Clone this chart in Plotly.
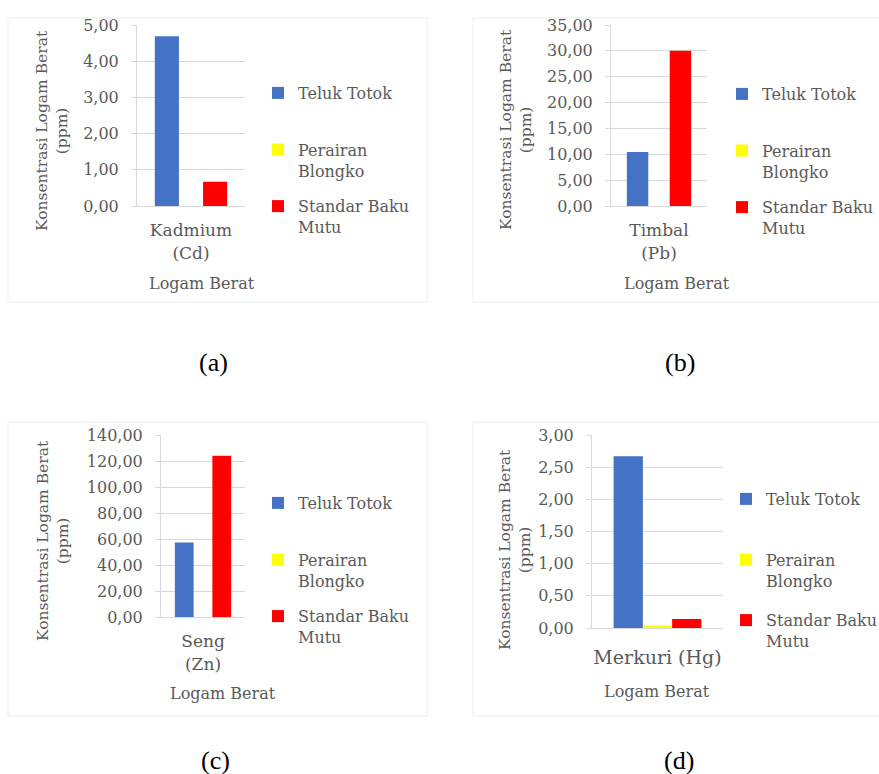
import plotly.graph_objects as go

W, H = 879, 774

# ---------------- data ----------------
series_names = ["Teluk Totok<br> ", "Perairan<br>Blongko", "Standar Baku<br>Mutu"]
series_colors = ["#4472C4", "#FFFF00", "#FF0000"]

categories = ["Kadmium<br>(Cd)", "Timbal<br>(Pb)", "Seng<br>(Zn)", "Merkuri (Hg)"]
teluk_totok = [4.69, 10.45, 57.4, 2.67]
perairan_blongko = [0.0, 0.0, 0.0, 0.04]
standar_baku_mutu = [0.67, 30.0, 124.0, 0.14]

y_max = [5, 35, 140, 3]
y_step = [1, 5, 20, 0.5]
panel_labels = ["(a)", "(b)", "(c)", "(d)"]
x_title = "Logam Berat"
y_title = "Konsentrasi Logam Berat<br>(ppm)"

# ---------------- layout helpers (pixel -> paper) ----------------
def fx(px):
    return px / W

def fy(py):
    return 1 - py / H

# plot boxes (left, right, top, bottom) in px
boxes = [(137, 245, 25, 206), (611, 707, 25, 206), (161, 245, 435, 617), (592, 723, 435, 628)]
legend_pos = [(258, 76), (722, 77), (258, 486), (726, 482)]
legend_gap = [12, 12, 12, 16]
ytitle_pos = [(52, 131), (516, 130), (53, 541), (515, 550)]
xtitle_pos = [(202, 283), (677, 283), (223, 693), (657, 691)]
caption_pos = [(213, 363), (680, 363), (215, 760), (679, 760)]
frames = [(8, 427, 18, 302), (473, 880, 18, 302), (8, 427, 422, 716), (473, 880, 422, 716)]
cat_font = [17, 17, 17, 19]
cat_standoff = [9, 9, 9, 12]

FONT = "DejaVu Serif"
GREY = "#595959"

fig = go.Figure()
values = [teluk_totok, perairan_blongko, standar_baku_mutu]

layout = dict(
    width=W, height=H,
    margin=dict(l=0, r=0, t=0, b=0, autoexpand=False),
    paper_bgcolor="white", plot_bgcolor="white",
    font=dict(family=FONT, color=GREY, size=16),
    separators=",.",
    barmode="group", bargap=0.33, bargroupgap=0,
    showlegend=True,
)

annotations = []
shapes = []
for i in range(4):
    sfx = "" if i == 0 else str(i + 1)
    xa, ya = "x" + sfx, "y" + sfx
    lg = "legend" + sfx
    for s in range(3):
        fig.add_trace(go.Bar(
            x=[categories[i]], y=[values[s][i]],
            name=series_names[s], marker=dict(color=series_colors[s], line=dict(width=0)),
            xaxis=xa, yaxis=ya, legend=lg, legendgroup=f"g{i}{s}",
            hoverinfo="skip",
        ))
    l, r, t, b = boxes[i]
    layout["xaxis" + sfx] = dict(
        domain=[fx(l), fx(r)], anchor=ya, type="category",
        showline=True, linecolor="#d9d9d9", linewidth=1,
        showgrid=False, ticks="", tickfont=dict(size=cat_font[i], color=GREY, family=FONT),
        ticklabelstandoff=cat_standoff[i],
    )
    layout["yaxis" + sfx] = dict(
        domain=[fy(b), fy(t)], anchor=xa, range=[0, y_max[i]], dtick=y_step[i],
        tickformat=".2f", showgrid=True, gridcolor="#d9d9d9", gridwidth=1,
        showline=True, linecolor="#d9d9d9", linewidth=1, zeroline=False,
        ticks="outside", ticklen=5, tickcolor="#d9d9d9",
        tickfont=dict(size=16, color=GREY, family=FONT), ticklabelstandoff=9,
    )
    lx, ly = legend_pos[i]
    layout[lg] = dict(
        x=fx(lx), y=fy(ly), xanchor="left", yanchor="top", valign="top",
        font=dict(size=16, color=GREY, family=FONT), tracegroupgap=legend_gap[i],
        bgcolor="rgba(0,0,0,0)", borderwidth=0, itemclick=False,
    )
    tx, ty = ytitle_pos[i]
    annotations.append(dict(x=fx(tx), y=fy(ty), xref="paper", yref="paper", text=y_title,
                            textangle=-90, showarrow=False, xanchor="center", yanchor="middle",
                            font=dict(size=15.5, color=GREY, family=FONT)))
    tx, ty = xtitle_pos[i]
    annotations.append(dict(x=fx(tx), y=fy(ty), xref="paper", yref="paper", text=x_title,
                            showarrow=False, xanchor="center", yanchor="middle",
                            font=dict(size=16, color=GREY, family=FONT)))
    tx, ty = caption_pos[i]
    annotations.append(dict(x=fx(tx), y=fy(ty), xref="paper", yref="paper", text=panel_labels[i],
                            showarrow=False, xanchor="center", yanchor="middle",
                            font=dict(size=26, color="black", family="Liberation Serif")))
    x0, x1, y0, y1 = frames[i]
    shapes.append(dict(type="rect", xref="paper", yref="paper", x0=fx(x0), x1=fx(x1),
                       y0=fy(y1), y1=fy(y0), line=dict(color="#ececec", width=1), layer="below"))

layout["annotations"] = annotations
layout["shapes"] = shapes
fig.update_layout(**layout)
fig.write_html("out.html", config={"displayModeBar": False},
               post_script="document.body.style.margin='0px';")
